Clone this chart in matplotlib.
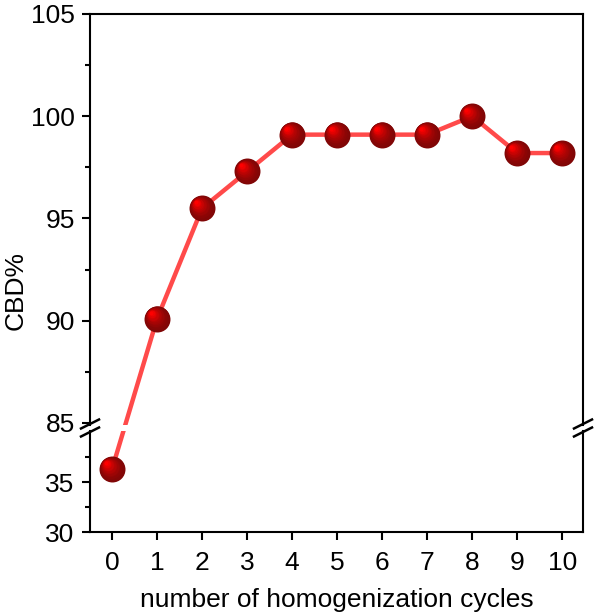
import numpy as np
import matplotlib
matplotlib.use("Agg")
import matplotlib.pyplot as plt
from matplotlib.lines import Line2D
from matplotlib.transforms import ScaledTranslation

plt.rcParams['font.family'] = ['Liberation Sans', 'DejaVu Sans']

# data
cycles = [0, 1, 2, 3, 4, 5, 6, 7, 8, 9, 10]
cbd = [36.3, 90.1, 95.5, 97.3, 99.1, 99.1, 99.1, 99.1, 100.0, 98.2, 98.2]
x_ticks = list(range(11))
top_ticks = [85, 90, 95, 100, 105]
bot_ticks = [30, 35]

line_color = '#ff4a4a'
dark_red = np.array([0x80, 0x06, 0x06]) / 255
bright_red = np.array([0xff, 0x00, 0x00]) / 255

fig = plt.figure(figsize=(5.94, 6.15), dpi=100)
W, H = 594, 615
left, right = 90 / W, 583 / W
ax_top = fig.add_axes([left, 1 - 425 / H, right - left, 411 / H])
ax_bot = fig.add_axes([left, 1 - 532 / H, right - left, 101 / H])

ax_top.set_ylim(84.9, 105)
ax_bot.set_ylim(30, 40.1)
for ax in (ax_top, ax_bot):
    ax.set_xlim(-0.49, 10.46)
    for s in ax.spines.values():
        s.set_linewidth(1.5)
    ax.tick_params(axis='both', which='major', direction='out', length=6,
                   width=1.5, labelsize=19, pad=5)
    ax.tick_params(axis='y', which='minor', direction='out', length=3.5,
                   width=1.5)
    ax.patch.set_alpha(0)

ax_top.spines['bottom'].set_visible(False)
ax_bot.spines['top'].set_visible(False)
ax_top.set_xticks([])
ax_top.set_yticks(top_ticks)
ax_top.set_yticks(np.arange(87.5, 105, 5), minor=True)
ax_bot.set_yticks(bot_ticks)
ax_bot.set_yticks([32.5, 37.5], minor=True)
ax_bot.set_xticks(x_ticks)
ax_bot.tick_params(axis='x', labelsize=19, pad=8)

ax_bot.set_xlabel('number of homogenization cycles', fontsize=19, labelpad=9)
fig.text(0.026, 1 - 290 / H, 'CBD%', rotation=90, ha='center', va='center',
         fontsize=19)

# line inside the top part
ax_top.plot(cycles[1:], cbd[1:], color=line_color, lw=3.2, zorder=2,
            solid_capstyle='butt')

# connector 0 -> 1 straight on screen, split at the break
p0 = ax_bot.transData.transform((cycles[0], cbd[0]))
p1 = ax_top.transData.transform((cycles[1], cbd[1]))
f0, f1 = fig.transFigure.inverted().transform([p0, p1])
for ax in (ax_top, ax_bot):
    ln = Line2D([f0[0], f1[0]], [f0[1], f1[1]], color=line_color, lw=3.2,
                transform=fig.transFigure, zorder=2, solid_capstyle='butt')
    ax.add_line(ln)
    ln.set_clip_path(ax.patch)


def sphere(ax, xs, ys):
    # layered circles to fake the shaded ball markers
    n = 14
    for i in range(n):
        t = i / (n - 1)
        size = 18.7 * (1 - 0.85 * t)
        w = t ** 1.6
        col = dark_red * (1 - w) + bright_red * w
        off = ScaledTranslation(-0.06 * t, 0.06 * t, fig.dpi_scale_trans)
        ax.plot(xs, ys, 'o', ms=size, color=col, mec='none', zorder=3 + i * 0.01,
                transform=ax.transData + off, clip_on=False)


sphere(ax_top, cycles[1:], cbd[1:])
sphere(ax_bot, cycles[:1], cbd[:1])

# break marks on both side spines
yb1 = 1 - 424 / H
yb2 = 1 - 432 / H
dx, dy = 9 / W, 4.5 / H
for xs in (left, right):
    for yb in (yb1, yb2):
        fig.add_artist(Line2D([xs - dx, xs + dx], [yb - dy, yb + dy],
                              color='black', lw=1.8,
                              transform=fig.transFigure))

fig.savefig('out.png', dpi=100)
